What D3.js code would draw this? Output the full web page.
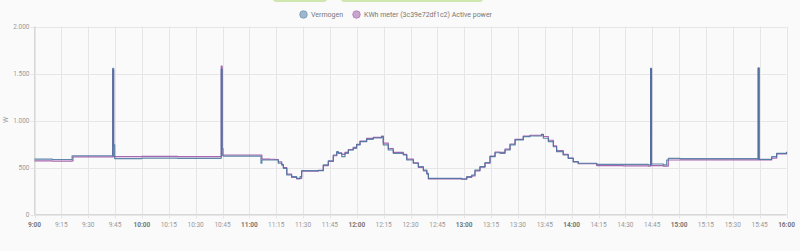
<html>
<meta charset="utf-8">
<head>
	<title>Vermogen</title>
	<script src="https://cdn.jsdelivr.net/npm/d3@7"></script>
</head>
<body style="margin:0;background:#fafafa">
<svg id="chart" width="800" height="251"></svg>

<script>
	// minutes after 9:00, shared by both series
	var minutesAfterNine = [
		0, 10, 20.9, 21, 21.5, 43.4, 43.7, 44.2, 44.8, 60, 80, 104.0, 104.3, 104.8, 105.3,
		126.5, 127, 131.5, 134.3, 136.2, 138.1, 139, 140.9, 143.6, 146.4, 148.3, 149.2,
		158.5, 161.3, 164.1, 166.9, 168.8, 169.7, 171.6, 173.4, 175.3, 178, 179.9, 181.8,
		185.5, 189.2, 193.9, 194.8, 197.6, 200.4, 206, 207.9, 211.6, 214.4, 217.2, 219.1,
		220, 228.3, 237.6, 238.6, 241.4, 244.2, 246, 248.8, 251.6, 254.4, 257.2, 260,
		262.8, 265.6, 268.4, 273, 276.7, 283.2, 284.2, 287, 289.8, 291.6, 295.3, 298.1,
		300.9, 303.7, 314, 328.8, 342.8, 344.1, 344.6, 351.2, 353.1, 354, 360.6, 380,
		403.9, 404.2, 404.7, 410.8, 411.7, 414.5, 420
	];
	var vermogen = [
		590, 585, 588, 625, 625, 628, 1555, 740, 595, 600, 597, 600, 1548, 700, 622,
		545, 580, 580, 580, 545, 527, 491, 420, 402, 385, 402, 466,
		466, 527, 572, 633, 668, 651, 615, 651, 686, 704, 740, 775,
		800, 814, 828, 740, 686, 651, 633, 580, 545, 509, 473, 438,
		385, 385, 385, 375, 402, 420, 473, 509, 551, 615, 657, 651,
		686, 740, 793, 828, 835, 853, 811, 775, 721, 668, 633, 598,
		562, 545, 534, 534, 527, 1555, 537, 527, 580, 598, 594, 595,
		594, 1555, 587, 587, 615, 651, 668
	];
	var kwhMeter = [
		570, 568, 570, 570, 612, 612, 1540, 615, 615, 618, 616, 618, 1580, 633, 633,
		633, 590, 588, 585, 560, 530, 500, 430, 395, 380, 385, 460,
		470, 520, 565, 625, 660, 655, 640, 660, 690, 715, 745, 780,
		810, 820, 835, 760, 700, 660, 640, 590, 550, 500, 465, 430,
		378, 378, 380, 378, 395, 410, 465, 505, 545, 620, 665, 660,
		695, 750, 800, 835, 843, 850, 830, 790, 730, 680, 640, 600,
		560, 540, 520, 518, 515, 1550, 520, 515, 515, 580, 582, 582,
		582, 1560, 580, 580, 600, 645, 660
	];
	var yTicks = [0, 500, 1000, 1500, 2000];
	var seriesNames = ["Vermogen", "KWh meter (3c39e72df1c2) Active power"];
	var seriesColors = ["#44739e", "#984ea3"];

	var svg = d3.select("#chart");
	var plotLeft = 34.5, plotRight = 786.5, plotTop = 26.5, plotBottom = 214.5;

	var start = new Date(2024, 0, 1, 9, 0);
	var toDate = function (m) { return new Date(start.getTime() + m * 60000); };

	var x = d3.scaleTime().domain([start, toDate(420)]).range([plotLeft, plotRight]);
	var y = d3.scaleLinear().domain([0, 2000]).range([plotBottom, plotTop]);

	// green bits cut off at the top
	svg.append("rect").attr("x", 273).attr("y", -4).attr("width", 54).attr("height", 6)
		.attr("rx", 3).attr("fill", "#cfe6ae");
	svg.append("rect").attr("x", 341).attr("y", -4).attr("width", 142).attr("height", 6)
		.attr("rx", 3).attr("fill", "#cfe6ae");

	// grid
	var xTicks = x.ticks(d3.timeMinute.every(15));
	svg.append("g").selectAll("line").data(xTicks).enter().append("line")
		.attr("x1", function (d) { return Math.round(x(d)) + 0.5; })
		.attr("x2", function (d) { return Math.round(x(d)) + 0.5; })
		.attr("y1", plotTop).attr("y2", plotBottom + 4)
		.attr("stroke", "#e6e6e6").attr("stroke-width", 1);
	svg.append("g").selectAll("line").data(yTicks).enter().append("line")
		.attr("x1", plotLeft - 4).attr("x2", plotRight)
		.attr("y1", function (d) { return Math.round(y(d)) + 0.5; })
		.attr("y2", function (d) { return Math.round(y(d)) + 0.5; })
		.attr("stroke", "#e6e6e6").attr("stroke-width", 1);
	// axis borders
	svg.append("line").attr("x1", plotLeft).attr("x2", plotLeft).attr("y1", plotTop).attr("y2", plotBottom)
		.attr("stroke", "#d8d8d8");
	svg.append("line").attr("x1", plotLeft).attr("x2", plotRight).attr("y1", plotBottom).attr("y2", plotBottom)
		.attr("stroke", "#d8d8d8");

	// tick labels
	var fmt = d3.timeFormat("%-H:%M");
	svg.append("g").selectAll("text").data(xTicks).enter().append("text")
		.attr("x", function (d) { return x(d); })
		.attr("y", 226.5)
		.attr("text-anchor", "middle")
		.attr("font-family", "Roboto")
		.attr("font-size", "6.5px")
		.attr("font-weight", function (d) { return d.getMinutes() === 0 ? "bold" : "normal"; })
		.attr("fill", function (d) { return d.getMinutes() === 0 ? "#777" : "#999"; })
		.text(function (d) { return fmt(d); });
	var numFmt = function (v) { return d3.format(",")(v).replace(/,/g, "."); };
	svg.append("g").selectAll("text").data(yTicks).enter().append("text")
		.attr("x", 29.5)
		.attr("y", function (d) { return y(d) + 2.3; })
		.attr("text-anchor", "end")
		.attr("font-family", "Roboto")
		.attr("font-size", "6.5px")
		.attr("fill", "#999")
		.text(numFmt);
	svg.append("text")
		.attr("transform", "translate(7.5,120) rotate(-90)")
		.attr("text-anchor", "middle")
		.attr("font-family", "Roboto")
		.attr("font-size", "7px")
		.attr("fill", "#999")
		.text("W");

	// lines (first series on top)
	var series = [kwhMeter, vermogen];
	var colors = [seriesColors[1], seriesColors[0]];
	series.forEach(function (values, i) {
		var line = d3.line()
			.x(function (d, j) { return x(toDate(minutesAfterNine[j])); })
			.y(function (d) { return y(d); })
			.curve(d3.curveStepAfter);
		svg.append("path")
			.attr("d", line(values))
			.attr("fill", "none")
			.attr("stroke", colors[i])
			.attr("stroke-opacity", 0.85)
			.attr("stroke-width", 1.2)
			.attr("stroke-linejoin", "round");
	});

	// legend
	var legendX = [303.5, 356.5];
	seriesNames.forEach(function (name, i) {
		svg.append("circle")
			.attr("cx", legendX[i]).attr("cy", 14.5).attr("r", 3.8)
			.attr("fill", seriesColors[i]).attr("fill-opacity", 0.5)
			.attr("stroke", seriesColors[i]).attr("stroke-opacity", 0.6).attr("stroke-width", 0.8);
		svg.append("text")
			.attr("x", legendX[i] + 7.5).attr("y", 17)
			.attr("font-family", "Roboto")
			.attr("font-size", "7px")
			.attr("fill", "#777")
			.text(name);
	});
</script>
</body>
</html>
